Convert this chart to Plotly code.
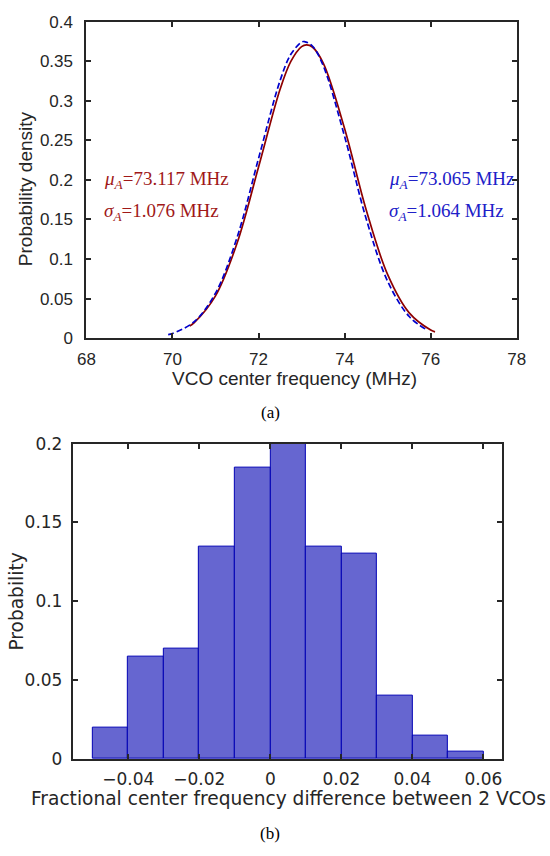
import plotly.graph_objects as go

# ---- Panel (a): fitted probability density curves ----
red_x = [70.4, 70.5, 71.0, 71.5, 72.0, 72.5, 72.75, 73.0, 73.117, 73.25, 73.5, 74.0, 74.5, 75.0, 75.5, 76.0, 76.1]
red_y = [0.0153, 0.0193, 0.0535, 0.1199, 0.2163, 0.3146, 0.3498, 0.3686, 0.3708, 0.3680, 0.3480, 0.2648, 0.1623, 0.0802, 0.0319, 0.0102, 0.0080]

blue_x = [69.9, 70.0, 70.5, 71.0, 71.5, 72.0, 72.5, 72.75, 73.0, 73.065, 73.25, 73.5, 74.0, 74.5, 75.0, 75.5, 75.9]
blue_y = [0.0045, 0.0059, 0.0205, 0.0570, 0.1271, 0.2272, 0.3256, 0.3588, 0.3742, 0.3749, 0.3693, 0.3448, 0.2548, 0.1510, 0.0717, 0.0273, 0.0108]

a_xticks = [68, 70, 72, 74, 76, 78]
a_yticks = [0, 0.05, 0.1, 0.15, 0.2, 0.25, 0.3, 0.35, 0.4]
a_ytick_text = ["0", "0.05", "0.1", "0.15", "0.2", "0.25", "0.3", "0.35", "0.4"]

# ---- Panel (b): histogram ----
bin_left_edges = [-0.05, -0.04, -0.03, -0.02, -0.01, 0.0, 0.01, 0.02, 0.03, 0.04, 0.05]
probability = [0.02, 0.065, 0.07, 0.135, 0.185, 0.2, 0.135, 0.13, 0.04, 0.015, 0.005]
bin_width = 0.01
b_xticks = [-0.04, -0.02, 0, 0.02, 0.04, 0.06]
b_xtick_text = ["\u22120.04", "\u22120.02", "0", "0.02", "0.04", "0.06"]
b_yticks = [0, 0.05, 0.1, 0.15, 0.2]
b_ytick_text = ["0", "0.05", "0.1", "0.15", "0.2"]

W, H = 550, 856
FRAME = "#262626"
RED_LINE = "#8E0000"
RED_TEXT = "#A01818"
BLUE_LINE = "#0000CC"
BLUE_TEXT = "#2020C8"
BAR_FILL = "#6666D0"
BAR_EDGE = "#0000B4"

fig = go.Figure()

fig.add_trace(go.Scatter(x=red_x, y=red_y, mode="lines", line=dict(color=RED_LINE, width=1.7, shape="spline"),
                         xaxis="x", yaxis="y", showlegend=False))
fig.add_trace(go.Scatter(x=blue_x, y=blue_y, mode="lines",
                         line=dict(color=BLUE_LINE, width=1.7, dash="6px,3px", shape="spline"),
                         xaxis="x", yaxis="y", showlegend=False))

fig.add_trace(go.Bar(x=bin_left_edges, y=probability, width=bin_width, offset=0,
                     marker=dict(color=BAR_FILL, line=dict(color=BAR_EDGE, width=1)),
                     xaxis="x2", yaxis="y2", showlegend=False))

def px_x(p):
    return p / W

def px_y(p):
    return 1 - p / H

sans_a = "Liberation Sans"
sans_b = "DejaVu Sans"
serif = "Liberation Serif"

common_axis = dict(showline=True, linewidth=2, linecolor=FRAME, mirror="ticks", ticks="inside",
                   ticklen=5, tickwidth=2, tickcolor=FRAME, showgrid=False, zeroline=False)

fig.update_layout(
    width=W, height=H, margin=dict(l=0, r=0, t=0, b=0),
    paper_bgcolor="white", plot_bgcolor="white",
    bargap=0,
    xaxis=dict(domain=[px_x(80), px_x(525)], range=[68, 78], anchor="y",
               tickvals=a_xticks, ticktext=[str(v) for v in a_xticks],
               tickfont=dict(family=sans_a, size=17, color="#262626"), ticklabelstandoff=4, **common_axis),
    yaxis=dict(domain=[px_y(336), px_y(12)], range=[0, 0.4], anchor="x",
               tickvals=a_yticks, ticktext=a_ytick_text,
               tickfont=dict(family=sans_a, size=17, color="#262626"), ticklabelstandoff=8, **common_axis),
    xaxis2=dict(domain=[px_x(66), px_x(510)], range=[-0.0556, 0.0653], anchor="y2",
                tickvals=b_xticks, ticktext=b_xtick_text,
                tickfont=dict(family=sans_b, size=17, color="#262626"), ticklabelstandoff=4, **common_axis),
    yaxis2=dict(domain=[px_y(767), px_y(444)], range=[0, 0.2], anchor="x2",
                tickvals=b_yticks, ticktext=b_ytick_text,
                tickfont=dict(family=sans_b, size=17, color="#262626"), ticklabelstandoff=5, **common_axis),
)

ann = []
# axis titles
ann.append(dict(text="VCO center frequency (MHz)", x=px_x(295), y=px_y(377), xref="paper", yref="paper",
                showarrow=False, font=dict(family=sans_a, size=19, color="#262626"), xanchor="center", yanchor="middle"))
ann.append(dict(text="Probability density", x=px_x(17), y=px_y(183), xref="paper", yref="paper", textangle=-90,
                showarrow=False, font=dict(family=sans_a, size=19, color="#262626"), xanchor="center", yanchor="middle"))
ann.append(dict(text="Fractional center frequency difference between 2 VCOs", x=px_x(289), y=px_y(807),
                xref="paper", yref="paper", showarrow=False,
                font=dict(family=sans_b, size=18.6, color="#262626"), xanchor="center", yanchor="middle"))
ann.append(dict(text="Probability", x=px_x(8), y=px_y(606), xref="paper", yref="paper", textangle=-90,
                showarrow=False, font=dict(family=sans_b, size=18.6, color="#262626"), xanchor="center", yanchor="middle"))
# panel captions
ann.append(dict(text="(a)", x=px_x(270), y=px_y(412), xref="paper", yref="paper", showarrow=False,
                font=dict(family=serif, size=17, color="black"), xanchor="center", yanchor="middle"))
ann.append(dict(text="(b)", x=px_x(270), y=px_y(843), xref="paper", yref="paper", showarrow=False,
                font=dict(family=serif, size=17, color="black"), xanchor="center", yanchor="middle"))
# fit parameters
mu = "<i>\u03bc</i><sub><i>A</i></sub>"
sg = "<i>\u03c3</i><sub><i>A</i></sub>"
ann.append(dict(text=mu + "=73.117 MHz", x=68.36, y=0.2, xref="x", yref="y", showarrow=False,
                font=dict(family=serif, size=19, color=RED_TEXT), xanchor="left", yanchor="middle"))
ann.append(dict(text=sg + "=1.076 MHz", x=68.36, y=0.16, xref="x", yref="y", showarrow=False,
                font=dict(family=serif, size=19, color=RED_TEXT), xanchor="left", yanchor="middle"))
ann.append(dict(text=mu + "=73.065 MHz", x=74.98, y=0.2, xref="x", yref="y", showarrow=False,
                font=dict(family=serif, size=19, color=BLUE_TEXT), xanchor="left", yanchor="middle"))
ann.append(dict(text=sg + "=1.064 MHz", x=74.98, y=0.16, xref="x", yref="y", showarrow=False,
                font=dict(family=serif, size=19, color=BLUE_TEXT), xanchor="left", yanchor="middle"))
fig.update_layout(annotations=ann)

fig.write_html("out.html")
